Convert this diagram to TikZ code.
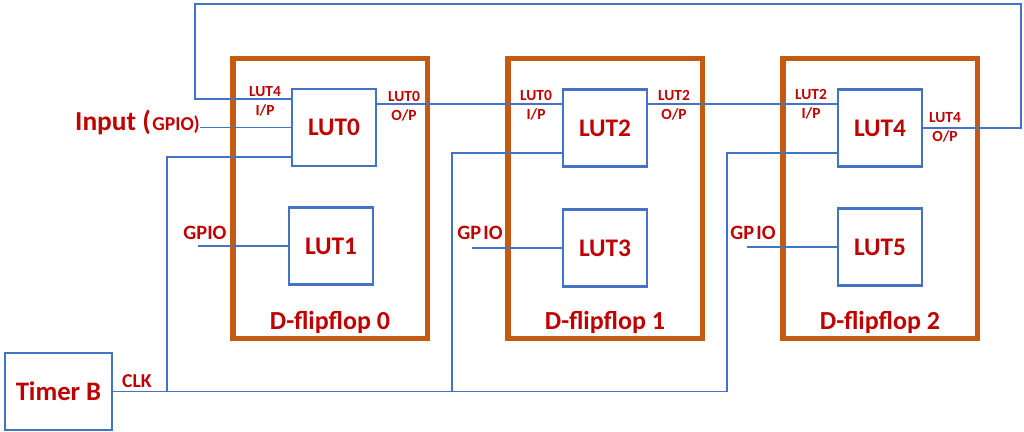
\documentclass[tikz,border=0pt]{standalone}
\usepackage{fontspec}
\setmainfont{Carlito}
\usetikzlibrary{calc}
\definecolor{wireblue}{HTML}{4472C4}
\definecolor{ffrust}{HTML}{C55A11}
\definecolor{labelred}{HTML}{C00000}
\tikzset{
    lutbox/.style={draw=wireblue, line width=2pt, minimum width=2.1cm, minimum height=1.925cm,
        text=labelred, font=\fontsize{18}{20}\selectfont\bfseries},
    ffbox/.style={draw=ffrust, line width=3.6pt, minimum width=4.85cm, minimum height=6.975cm},
    fflabel/.style={text=labelred, font=\fontsize{18.5}{20}\selectfont\bfseries},
    wire/.style={wireblue, line width=1.4pt},
    pinlabel/.style={text=labelred, align=center, inner sep=0pt,
        font=\fontsize{11}{13.5}\selectfont\bfseries},
    gpiolabel/.style={text=labelred, inner sep=0pt, font=\fontsize{14.5}{16}\selectfont\bfseries},
}
\begin{document}
\begin{tikzpicture}[x=0.025cm, y=-0.025cm]
        \useasboundingbox (0,0) rectangle (1024,432);
        % flip-flops
        \foreach \i in {0,1,2} {
            \node[ffbox] (ff\i) at (330+275*\i,198.5) {};
            \node[fflabel] at ([yshift=0.45cm]ff\i.south) {D-flipflop \i};
        }
        % LUTs
        \node[lutbox] (lut0) at (334,127.5) {LUT0};
        \node[lutbox] (lut1) at (331,246)   {LUT1};
        \node[lutbox] (lut2) at (605,128)   {LUT2};
        \node[lutbox] (lut3) at (605,248)   {LUT3};
        \node[lutbox] (lut4) at (880,128)   {LUT4};
        \node[lutbox] (lut5) at (880,247)   {LUT5};
        \node[lutbox, minimum width=2.675cm, font=\fontsize{19}{20}\selectfont\bfseries]
            (timer) at (58.5,391.5) {Timer B};
        % texts
        \node[text=labelred, anchor=base east, inner sep=0pt, font=\fontsize{19.5}{22}\selectfont\bfseries]
            (inp) at (200,131) {Input (\hspace{1pt}{\fontsize{14}{14}\selectfont GPIO)}};
        \node[gpiolabel, font=\fontsize{14}{16}\selectfont\bfseries] (clk) at (137,381) {CLK};
        \node[gpiolabel] (gp1) at (205,233) {GPIO};
        \node[gpiolabel] (gp3) at (480,233) {GP\kern1.5pt IO};
        \node[gpiolabel] (gp5) at (753,233) {GP\kern1.5pt IO};
        \node[pinlabel] (in0)  at (265,101.5) {LUT4\\I/P};
        \node[pinlabel] (out0) at (404,106)   {LUT0\\O/P};
        \node[pinlabel] (in1)  at (536,105.5) {LUT0\\I/P};
        \node[pinlabel] (out1) at (674,105.5) {LUT2\\O/P};
        \node[pinlabel] (in2)  at (811,104.5) {LUT2\\I/P};
        \node[pinlabel] (out2) at (945,127.5) {LUT4\\O/P};
        % wire ends
        \coordinate (fbR)  at (1021,4);
        \coordinate (fbL)  at (195,4);
        \coordinate (clkA) at (167,391.5);
        \coordinate (clkB) at (452,391.5);
        \coordinate (clkC) at (727,391.5);
        \coordinate (g1)   at (198,246);
        \coordinate (g3)   at (472,248);
        \coordinate (g5)   at (747,247);
        % data chain and feedback
        \draw[wire] ($(lut0.north east)+(0,16)$) coordinate (q0) -- (q0 -| lut2.west);
        \draw[wire] ($(lut2.north east)+(0,16)$) coordinate (q2) -- (q2 -| lut4.west);
        \draw[wire] (lut4.east) -| (fbR) -- (fbL) |- ($(lut0.north west)+(0,11)$);
        \draw[wire] (inp.east |- lut0.west) -- (lut0.west);
        % clock
        \draw[wire] (timer.east) -- (clkC) |- ($(lut4.south west)+(0,-15)$);
        \draw[wire] (clkA) |- ($(lut0.south west)+(0,-10)$);
        \draw[wire] (clkB) |- ($(lut2.south west)+(0,-15)$);
        % gpio
        \draw[wire] (g1) -- (lut1.west);
        \draw[wire] (g3) -- (lut3.west);
        \draw[wire] (g5) -- (lut5.west);
    \end{tikzpicture}
\end{document}
